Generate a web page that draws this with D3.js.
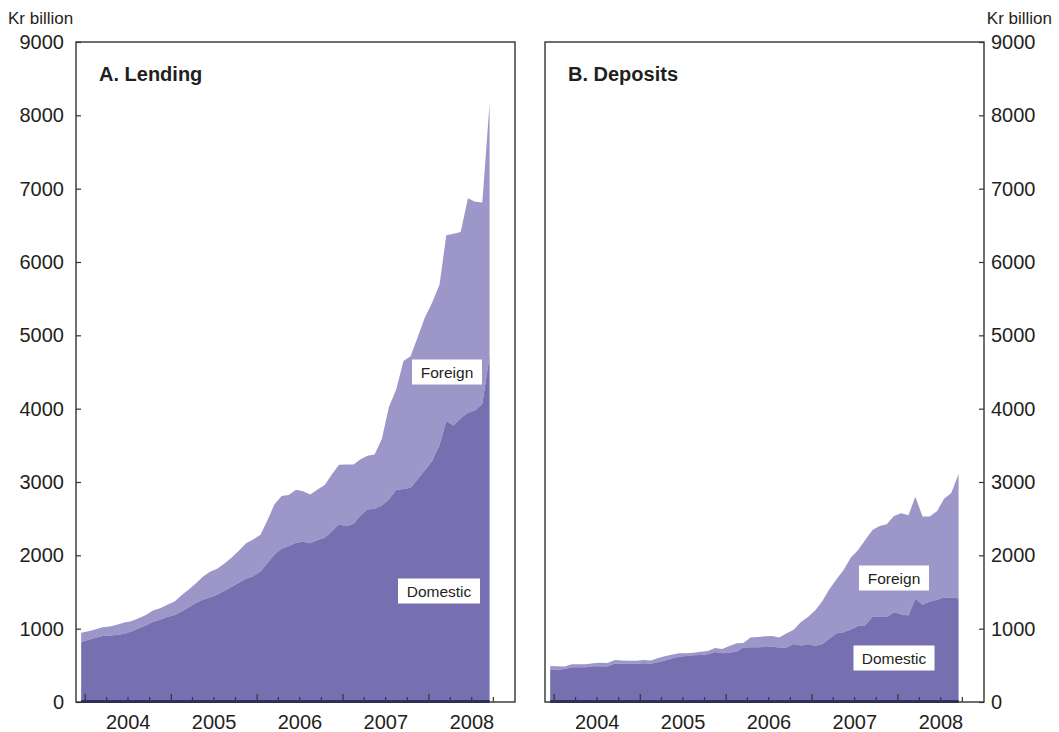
<!DOCTYPE html>
<meta charset="utf-8">
<style>
body { margin: 0; background: #fff; }
text { font-family: "Liberation Sans", Arial, sans-serif; fill: #231f20; }
.frame { fill: none; stroke: #333; stroke-width: 1.4px; }
.tick line { stroke: #333; stroke-width: 1.2px; }
</style>
<body>
<svg width="1059" height="732"></svg>
<script src="https://d3js.org/d3.v7.min.js"></script>
<script>

// monthly observations, Dec 2003 .. Sep 2008 (Kr billion)
var lendingTotal = [945, 966, 993, 1020, 1030, 1052, 1085, 1101, 1143, 1188, 1247, 1279, 1326,
  1372, 1460, 1530, 1616, 1707, 1775, 1818, 1889, 1971, 2064, 2164, 2216, 2279, 2486, 2692,
  2809, 2823, 2895, 2875, 2831, 2899, 2960, 3107, 3235, 3239, 3237, 3308, 3358, 3376, 3587,
  4024, 4263, 4650, 4714, 4980, 5243, 5448, 5690, 6365, 6385, 6410, 6868, 6822, 6810, 8160];

var lendingDomestic = [815, 848, 875, 901, 906, 912, 929, 960, 1007, 1043, 1094, 1120, 1158,
  1185, 1234, 1290, 1350, 1395, 1424, 1461, 1517, 1573, 1627, 1680, 1715, 1780, 1900, 2010,
  2090, 2125, 2170, 2185, 2165, 2210, 2240, 2330, 2425, 2395, 2430, 2540, 2625, 2635, 2680,
  2760, 2890, 2905, 2920, 3040, 3160, 3290, 3500, 3830, 3770, 3870, 3945, 3975, 4065, 4720];

var depositsTotal = [490, 486, 485, 514, 514, 514, 527, 534, 532, 572, 566, 561, 563,
  573, 566, 596, 624, 645, 664, 664, 673, 686, 697, 735, 722, 762, 800, 805,
  878, 887, 895, 900, 880, 937, 985, 1090, 1160, 1250, 1380, 1535, 1675, 1800, 1970,
  2070, 2210, 2345, 2400, 2425, 2535, 2573, 2545, 2800, 2530, 2530, 2600, 2770, 2850, 3110];

var depositsDomestic = [437, 441, 450, 473, 473, 473, 488, 487, 485, 526, 523, 520, 521,
  527, 520, 542, 565, 592, 617, 628, 637, 641, 650, 683, 665, 670, 690, 742,
  745, 747, 751, 755, 742, 742, 790, 772, 792, 765, 790, 862, 937, 950, 990,
  1036, 1045, 1163, 1160, 1160, 1225, 1195, 1180, 1410, 1325, 1370, 1393, 1425, 1420, 1414];

var yearLabels = ["2004", "2005", "2006", "2007", "2008"];
var yTicks = [0, 1000, 2000, 3000, 4000, 5000, 6000, 7000, 8000, 9000];

var months = d3.timeMonth.range(new Date(2003, 11, 1), new Date(2008, 9, 1))
    .map(function(m) { return d3.timeDay.offset(m, 14); });

var colorDomestic = "#7670b1",
    colorForeign = "#9d96c9",
    colorBase = "#2e2c7e";

var svg = d3.select("svg");

var plotTop = 42, plotBottom = 702, panelW = 439;

var y = d3.scaleLinear().domain([0, 9000]).range([plotBottom, plotTop]);

function drawPanel(x0, title, total, domestic, side, labels) {
  var x = d3.scaleTime()
      .domain([new Date(2003, 10, 23), new Date(2009, 0, 1)])
      .range([x0, x0 + panelW]);

  var g = svg.append("g");

  var rows = months.map(function(d, i) {
    return { date: d, total: total[i], domestic: domestic[i] };
  });

  g.append("path")
      .datum(rows)
      .attr("fill", colorForeign)
      .attr("d", d3.area()
        .x(function(d) { return x(d.date); })
        .y0(function(d) { return y(d.domestic); })
        .y1(function(d) { return y(d.total); }));

  g.append("path")
      .datum(rows)
      .attr("fill", colorDomestic)
      .attr("d", d3.area()
        .x(function(d) { return x(d.date); })
        .y0(y(0))
        .y1(function(d) { return y(d.domestic); }));

  // quarterly ticks, longer at year start
  var quarters = d3.timeMonth.every(3).range(new Date(2004, 0, 1), new Date(2009, 0, 1));
  g.selectAll(".qtick")
    .data(quarters)
    .enter().append("line")
      .attr("x1", function(d) { return x(d); })
      .attr("x2", function(d) { return x(d); })
      .attr("y1", plotBottom)
      .attr("y2", function(d) { return plotBottom - (d.getMonth() === 0 ? 8 : 5); })
      .attr("stroke", "#333")
      .attr("stroke-width", 1.2);

  g.append("line")
      .attr("x1", x(months[0]))
      .attr("x2", x(months[months.length - 1]))
      .attr("y1", y(0) - 0.5)
      .attr("y2", y(0) - 0.5)
      .attr("stroke", colorBase)
      .attr("stroke-width", 3);

  g.append("rect")
      .attr("class", "frame")
      .attr("x", x0)
      .attr("y", plotTop)
      .attr("width", panelW)
      .attr("height", plotBottom - plotTop);

  g.selectAll(".year")
    .data(yearLabels)
    .enter().append("text")
      .attr("x", function(d) { return x(new Date(+d, 6, 2)); })
      .attr("y", plotBottom + 27)
      .attr("text-anchor", "middle")
      .style("font-size", "20px")
      .text(function(d) { return d; });

  var axis = side === "left"
      ? d3.axisLeft(y).tickValues(yTicks).tickSize(-5).tickPadding(12)
      : d3.axisRight(y).tickValues(yTicks).tickSize(-5).tickPadding(7);
  axis.tickFormat(d3.format("d"));
  var ax = g.append("g")
      .attr("transform", "translate(" + (side === "left" ? x0 : x0 + panelW) + ",0)")
      .call(axis);
  ax.select(".domain").remove();
  ax.selectAll("text")
      .style("font-size", "20px")
      .style("font-family", "'Liberation Sans', Arial, sans-serif")
      .attr("fill", "#231f20");

  g.append("text")
      .attr("x", x0 + 23)
      .attr("y", 81)
      .style("font-size", "20px")
      .style("font-weight", "bold")
      .text(title);

  labels.forEach(function(l) {
    g.append("rect")
        .attr("x", l.cx - l.w / 2)
        .attr("y", l.cy - 12.5)
        .attr("width", l.w)
        .attr("height", 25)
        .attr("fill", "#fff");
    g.append("text")
        .attr("x", l.cx)
        .attr("y", l.cy + 5.5)
        .attr("text-anchor", "middle")
        .style("font-size", "15.5px")
        .text(l.text);
  });
}

drawPanel(76, "A. Lending", lendingTotal, lendingDomestic, "left", [
  { text: "Foreign", cx: 447, cy: 372, w: 70 },
  { text: "Domestic", cx: 439, cy: 591, w: 82 }
]);

drawPanel(545, "B. Deposits", depositsTotal, depositsDomestic, "right", [
  { text: "Foreign", cx: 894, cy: 578, w: 70 },
  { text: "Domestic", cx: 894, cy: 658, w: 81 }
]);

svg.append("text")
    .attr("x", 8)
    .attr("y", 24)
    .style("font-size", "17px")
    .text("Kr billion");

svg.append("text")
    .attr("x", 1052)
    .attr("y", 24)
    .attr("text-anchor", "end")
    .style("font-size", "17px")
    .text("Kr billion");

</script>
</body>
